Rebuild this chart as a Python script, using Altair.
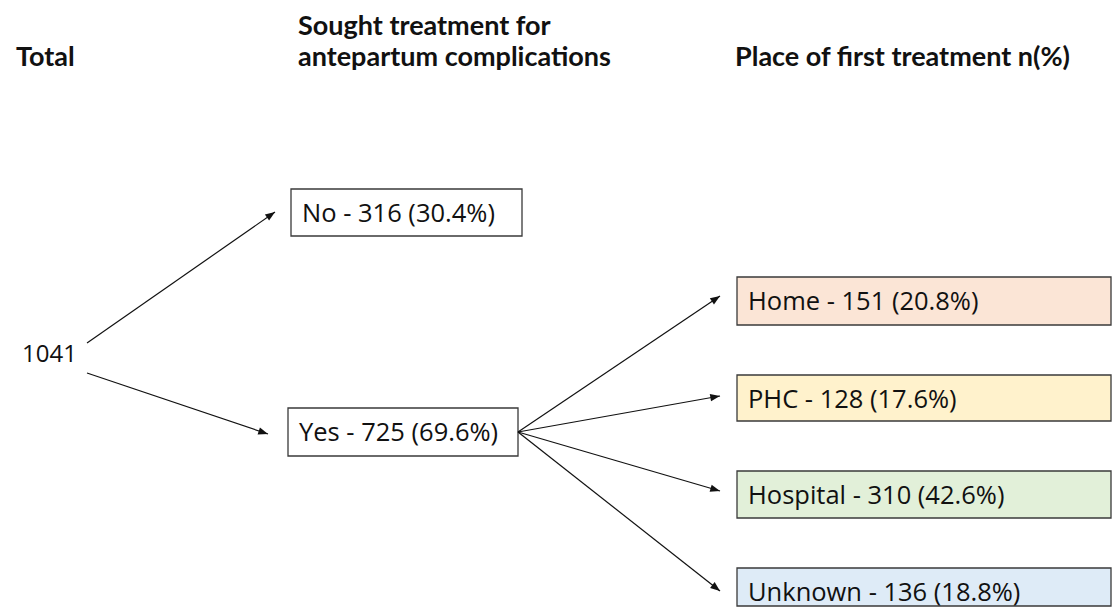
import math
import altair as alt
import pandas as pd

# ---- data ----
total_n = 1041
sought_labels = ["No", "Yes"]
sought_n = [316, 725]
sought_pct = [30.4, 69.6]
place_labels = ["Home", "PHC", "Hospital", "Unknown"]
place_n = [151, 128, 310, 136]
place_pct = [20.8, 17.6, 42.6, 18.8]
headers = ["Total", "Sought treatment for", "antepartum complications",
           "Place of first treatment n(%)"]

# ---- layout (reference pixel coordinates) ----
header_x = [16, 298, 298, 735]
header_y = [66, 35, 66, 66]
total_pos = (22, 362)
sought_box = [(291, 522, 189, 236), (288, 518, 408, 456)]
place_box = [(737, 1111, 277, 325), (737, 1111, 375, 421),
             (737, 1111, 471, 518), (737, 1111, 568, 606)]
place_fill = ["#FBE5D6", "#FFF2CC", "#E2F0D9", "#DEEBF7"]
arrows = [((87, 343), (275, 212)), ((87, 373), (268, 434)),
          ((518, 432), (720, 296)), ((518, 432), (720, 396)),
          ((518, 432), (720, 491)), ((518, 432), (720, 591))]

BODY_FONT = "Open Sans"
HEAD_FONT = "Lato"
xs = alt.Scale(domain=[8, 1112], range=[0, 1104], zero=False, nice=False)
ys = alt.Scale(domain=[607, 8], zero=False, nice=False)
X = lambda f: alt.X(f, type="quantitative", scale=xs, axis=None)
Y = lambda f: alt.Y(f, type="quantitative", scale=ys, axis=None)

boxes = []
for i, (lab, n, p) in enumerate(zip(sought_labels, sought_n, sought_pct)):
    x0, x1, y0, y1 = sought_box[i]
    boxes.append(dict(x0=x0, x1=x1, y0=y0, y1=y1, fill="#ffffff",
                      label=f"{lab} - {n} ({p:.1f}%)"))
for i, (lab, n, p) in enumerate(zip(place_labels, place_n, place_pct)):
    x0, x1, y0, y1 = place_box[i]
    boxes.append(dict(x0=x0, x1=x1, y0=y0, y1=y1, fill=place_fill[i],
                      label=f"{lab} - {n} ({p:.1f}%)"))
boxes = pd.DataFrame(boxes)
boxes["tx"] = boxes["x0"] + 11
boxes["ty"] = boxes["y0"] + 33

arr = []
for (a, b) in arrows:
    dx, dy = b[0] - a[0], b[1] - a[1]
    ang = math.degrees(math.atan2(dx, -dy)) % 360
    arr.append(dict(x=a[0], y=a[1], x2=b[0], y2=b[1], ang=ang))
arr = pd.DataFrame(arr)

hdr = pd.DataFrame(dict(x=header_x, y=header_y, t=headers))
tot = pd.DataFrame(dict(x=[total_pos[0]], y=[total_pos[1]], t=[str(total_n)]))

rect = alt.Chart(boxes).mark_rect(stroke="#3a3a3a", strokeWidth=1.3).encode(
    x=X("x0"), x2="x1", y=Y("y0"), y2="y1",
    fill=alt.Fill("fill:N", scale=None))
btxt = alt.Chart(boxes).mark_text(align="left", baseline="alphabetic", font=BODY_FONT,
                                  fontSize=25.5, color="#111111").encode(
    x=X("tx"), y=Y("ty"), text="label:N")
lines = alt.Chart(arr).mark_rule(color="#111111", strokeWidth=1.2).encode(
    x=X("x"), x2="x2", y=Y("y"), y2="y2")
heads = alt.Chart(arr).mark_point(
    shape="M0,0L0.38,1L-0.38,1Z", filled=True, size=380, color="#111111",
    opacity=1).encode(x=X("x2"), y=Y("y2"), angle=alt.Angle("ang:Q", scale=None))
htxt = alt.Chart(hdr).mark_text(align="left", baseline="alphabetic", font=HEAD_FONT,
                                fontSize=27, fontWeight="bold", color="#111111").encode(
    x=X("x"), y=Y("y"), text="t:N")
ttxt = alt.Chart(tot).mark_text(align="left", baseline="alphabetic", font=BODY_FONT,
                                fontSize=24, color="#111111").encode(
    x=X("x"), y=Y("y"), text="t:N")

chart = alt.layer(rect, lines, heads, btxt, htxt, ttxt).properties(
    width=1104, height=599, padding=0, background="#ffffff",
    autosize=alt.AutoSizeParams(type="none")
).configure_view(stroke=None)

chart.save("out.html", embed_options={"renderer": "svg", "actions": False})
